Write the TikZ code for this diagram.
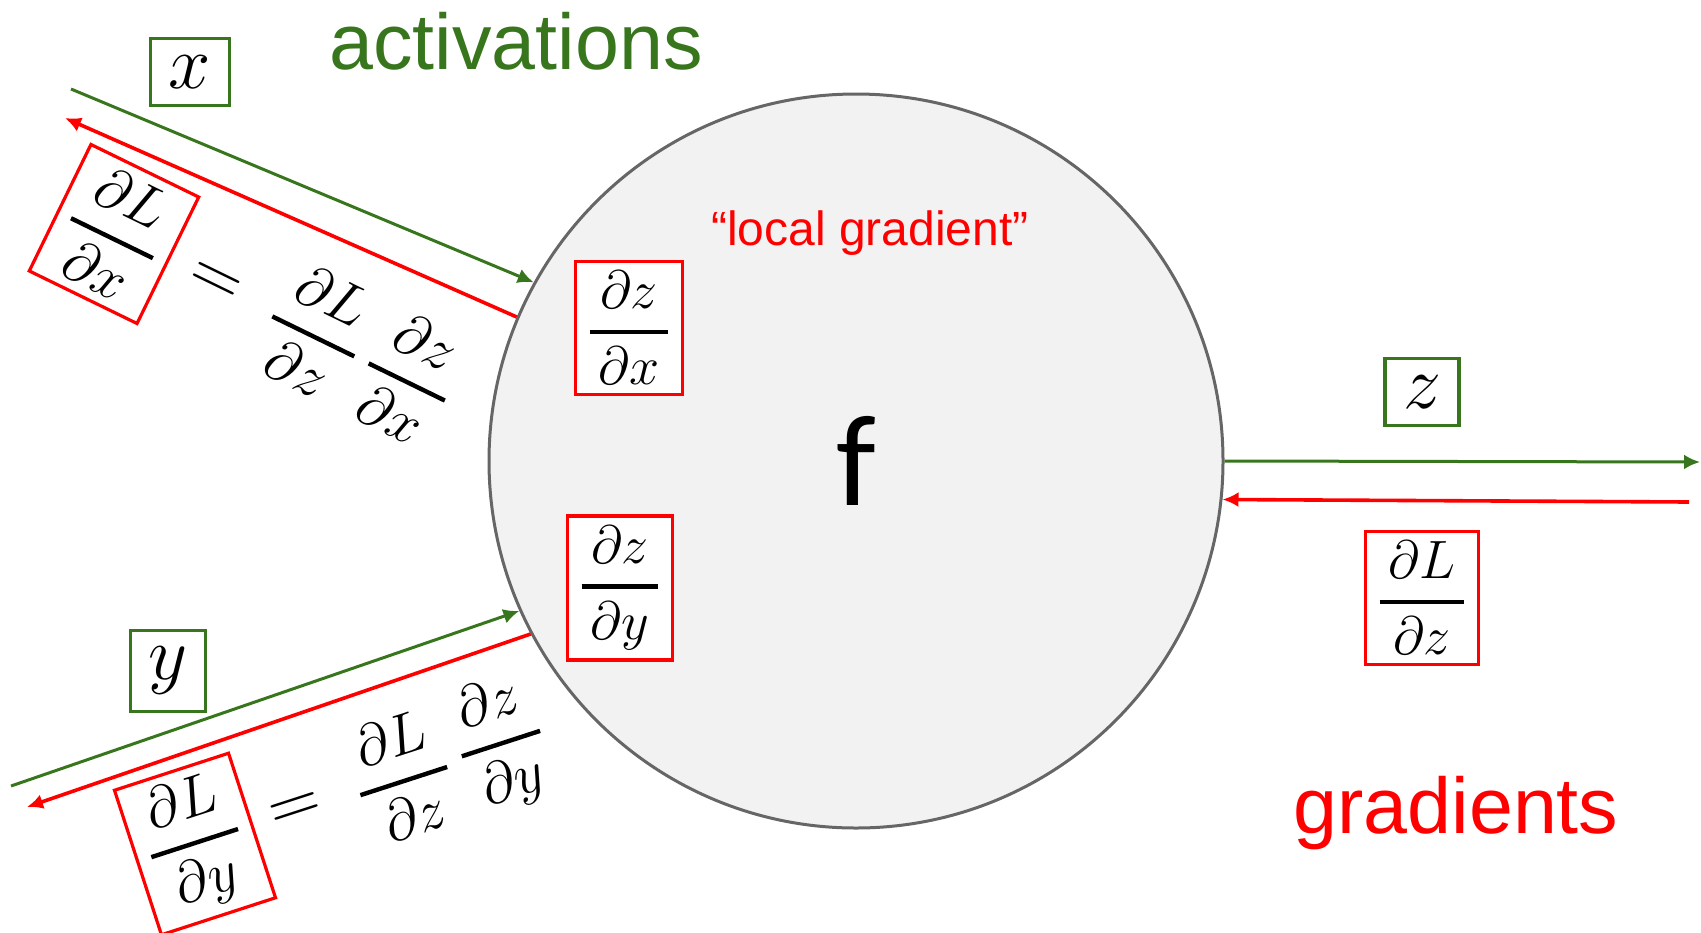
\RequirePackage{fix-cm}
\documentclass[tikz,border=0pt]{standalone}
\usepackage[no-math]{fontspec}
\usepackage{amsmath}
\usetikzlibrary{arrows.meta, positioning}

\newfontfamily\slidefont{Liberation Sans}
\newfontfamily\funcfont{Carlito}

\definecolor{actgreen}{RGB}{56,118,29}
\definecolor{ringgray}{RGB}{102,102,102}
\definecolor{nodegray}{RGB}{242,242,242}

% partial derivative with a long, heavy bar
\newcommand{\pd}[2]{\genfrac{}{}{2.2pt}{0}{\,\partial #1\,}{\,\partial #2\,}}

\begin{document}
\begin{tikzpicture}[x=0.5pt, y=-0.5pt, >={Latex[length=8pt,width=7.5pt]}, node distance=54pt,
	fwd/.style={->, actgreen, line width=1.5pt},
	bwd/.style={->, red, line width=1.8pt},
	varbox/.style={draw=actgreen, line width=1.6pt, fill=white, inner xsep=9pt, inner ysep=8.5pt, font=\fontsize{38}{44}\selectfont},
	gradbox/.style={draw=red, line width=1.6pt, fill=white, inner xsep=6pt, inner ysep=5pt, font=\fontsize{27}{32}\selectfont},
	frac/.style={inner sep=0pt, font=\fontsize{29}{34}\selectfont},
	eqsign/.style={inner sep=0pt, font=\fontsize{36}{40}\selectfont},
	slide/.style={font=\slidefont\fontsize{39.5}{47}\selectfont, anchor=base}]

		\useasboundingbox (0,0) rectangle (1701,932);

		% the gate
		\node[circle, draw=ringgray, line width=1.5pt, fill=nodegray, minimum size=367pt, inner sep=0pt,
			font=\funcfont\fontsize{65}{78}\selectfont] (f) at (856,461) {f};

		\node[red, font=\slidefont\fontsize{24}{29}\selectfont, anchor=base] (localtxt) at (870,245) {“local gradient”};
		\node[gradbox] (dzdx) at (629,328) {$\pd{z}{x}$};
		\node[gradbox] (dzdy) at (620,588) {$\pd{z}{y}$};

		% headings
		\node[slide, actgreen] (acttxt) at (516,69) {activations};
		\node[slide, red] (gradtxt) at (1456,833) {gradients};

		% inputs and output
		\node[varbox] (x) at (190,72) {$x$};
		\node[varbox] (y) at (168,671) {$y$};
		\node[varbox] (z) at (1422,392) {$z$};
		\node[gradbox] (dLdz) at (1422,598) {$\pd{L}{z}$};

		\coordinate (xin) at (71,89);
		\coordinate (xout) at (65,118);
		\coordinate (yin) at (11,786);
		\coordinate (yout) at (27,807);
		\coordinate (zout) at (1700,462);
		\coordinate (zin) at (1689,502);

		\draw[fwd] (xin) -- (f.151.6);
		\draw[bwd] (f.157.3) -- (xout);
		\draw[fwd] (yin) -- (f.204.4);
		\draw[bwd] (f.208.8) -- (yout);
		\draw[fwd] (f.east) -- (zout);
		\draw[bwd] (zin) -- (f.-6.4);

		% chain rule, upper input
		\begin{scope}[shift={(114,234)}, rotate=-26, transform shape]
			\node[gradbox, font=\fontsize{29}{34}\selectfont] (dLdx) at (0,0) {$\pd{L}{x}$};
			\node[eqsign, right of=dLdx, node distance=56pt] (eqx) {$=$};
			\node[frac, right of=eqx, node distance=56pt] (dLdzx) {$\pd{L}{z}$};
			\node[frac, right of=dLdzx, node distance=52pt] (dzdxr) {$\pd{z}{x}$};
		\end{scope}

		% chain rule, lower input
		\begin{scope}[shift={(195,844)}, rotate=18, transform shape]
			\node[gradbox, font=\fontsize{29}{34}\selectfont] (dLdy) at (0,0) {$\pd{L}{y}$};
			\node[eqsign, right of=dLdy, node distance=53pt] (eqy) {$=$};
			\node[frac, right of=eqy, node distance=56pt] (dLdzy) {$\pd{L}{z}$};
			\node[frac, right of=dLdzy, node distance=52pt] (dzdyr) {$\pd{z}{y}$};
		\end{scope}

		\end{tikzpicture}
\end{document}
